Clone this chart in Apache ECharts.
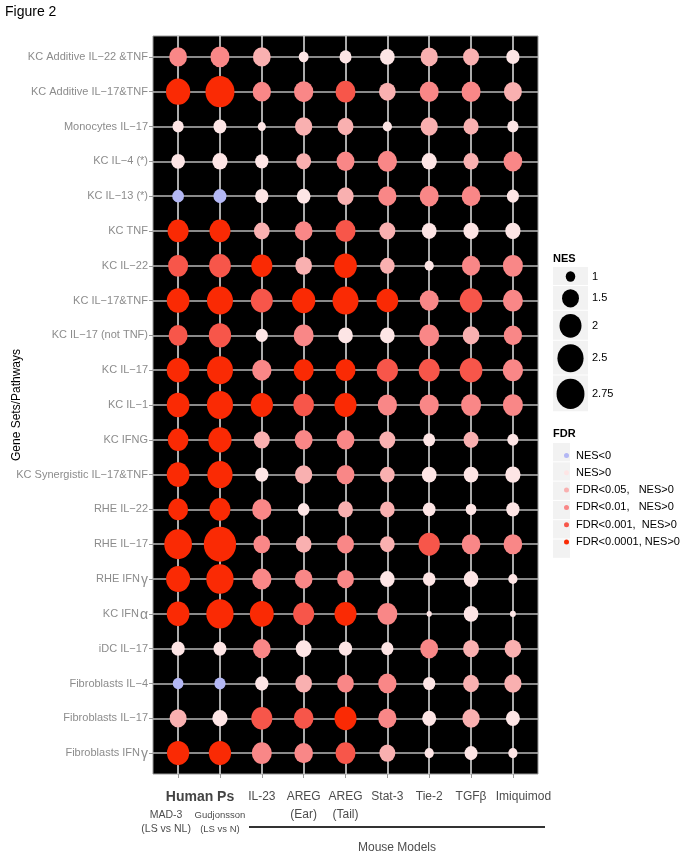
<!DOCTYPE html>
<html>
<head>
<meta charset="utf-8">
<title>Figure 2</title>
<script src="https://cdn.jsdelivr.net/npm/echarts@6/dist/echarts.min.js"></script>
<style>
  html, body { margin: 0; padding: 0; background: #fff; }
  #chart { width: 683px; height: 860px; }
</style>
</head>
<body>
<div id="chart"></div>
<script>
// gene sets / pathways, top to bottom
const geneSets = [
  'KC Additive IL−22 &TNF', 'KC Additive IL−17&TNF', 'Monocytes IL−17', 'KC IL−4 (*)',
  'KC IL−13 (*)', 'KC TNF', 'KC IL−22', 'KC IL−17&TNF', 'KC IL−17 (not TNF)', 'KC IL−17',
  'KC IL−1', 'KC IFNG', 'KC Synergistic IL−17&TNF', 'RHE IL−22', 'RHE IL−17', 'RHE IFNγ',
  'KC IFNα', 'iDC IL−17', 'Fibroblasts IL−4', 'Fibroblasts IL−17', 'Fibroblasts IFNγ'
];

// models (columns), first line / second line of the tick label
const modelTop = ['', '', 'IL-23', 'AREG', 'AREG', 'Stat-3', 'Tie-2', 'TGFβ', 'Imiquimod'];
const modelSub = ['MAD-3|(LS vs NL)', 'Gudjonsson|(LS vs N)', '', '(Ear)', '(Tail)', '', '', '', ''];

// NES, one row per gene set, one value per model
const nes = [
  [1.57, 1.69, 1.57, 1.02, 1.14, 1.32, 1.53, 1.42, 1.22],
  [2.27, 2.90, 1.62, 1.72, 1.79, 1.48, 1.69, 1.69, 1.59],
  [1.09, 1.20, 0.94, 1.53, 1.42, 0.99, 1.53, 1.36, 1.09],
  [1.25, 1.36, 1.22, 1.34, 1.59, 1.72, 1.36, 1.36, 1.66],
  [-1.12, -1.20, 1.22, 1.25, 1.45, 1.62, 1.69, 1.66, 1.14],
  [1.89, 1.89, 1.40, 1.57, 1.79, 1.42, 1.32, 1.36, 1.36],
  [1.79, 1.97, 1.89, 1.48, 2.08, 1.32, 0.99, 1.62, 1.79],
  [2.08, 2.49, 2.00, 2.15, 2.49, 1.97, 1.69, 2.08, 1.79],
  [1.69, 2.03, 1.15, 1.79, 1.32, 1.32, 1.79, 1.48, 1.62],
  [2.08, 2.49, 1.72, 1.79, 1.79, 1.92, 1.89, 2.08, 1.82],
  [2.08, 2.49, 2.03, 1.86, 2.00, 1.72, 1.72, 1.79, 1.79],
  [1.86, 2.15, 1.42, 1.59, 1.59, 1.42, 1.14, 1.34, 1.09],
  [2.08, 2.39, 1.22, 1.53, 1.59, 1.32, 1.32, 1.32, 1.36],
  [1.79, 1.89, 1.72, 1.12, 1.34, 1.32, 1.18, 1.06, 1.22],
  [2.72, 3.42, 1.48, 1.40, 1.50, 1.32, 1.92, 1.66, 1.66],
  [2.23, 2.66, 1.72, 1.57, 1.50, 1.32, 1.18, 1.32, 0.99],
  [2.08, 2.66, 2.23, 1.89, 2.00, 1.79, 0.84, 1.32, 0.86],
  [1.22, 1.20, 1.57, 1.40, 1.22, 1.15, 1.59, 1.42, 1.48],
  [-1.06, -1.09, 1.22, 1.48, 1.48, 1.62, 1.15, 1.42, 1.53],
  [1.50, 1.36, 1.89, 1.75, 2.00, 1.62, 1.27, 1.53, 1.27],
  [2.03, 2.03, 1.79, 1.66, 1.79, 1.42, 0.99, 1.20, 0.99]
];

// FDR class per cell: 0 NES<0, 1 NES>0, 2 <0.05, 3 <0.01, 4 <0.001, 5 <0.0001
const fdr = [
  [3, 3, 2, 1, 1, 1, 2, 2, 1],
  [5, 5, 3, 3, 4, 2, 3, 3, 2],
  [1, 1, 1, 2, 2, 1, 2, 2, 1],
  [1, 1, 1, 2, 3, 3, 1, 2, 3],
  [0, 0, 1, 1, 2, 3, 3, 3, 1],
  [5, 5, 2, 3, 4, 2, 1, 1, 1],
  [4, 4, 5, 2, 5, 2, 1, 3, 3],
  [5, 5, 4, 5, 5, 5, 3, 4, 3],
  [4, 4, 1, 3, 1, 1, 3, 2, 3],
  [5, 5, 3, 5, 5, 4, 4, 4, 3],
  [5, 5, 5, 4, 5, 3, 3, 3, 3],
  [5, 5, 2, 3, 3, 2, 1, 2, 1],
  [5, 5, 1, 2, 3, 2, 1, 1, 1],
  [5, 5, 3, 1, 2, 2, 1, 1, 1],
  [5, 5, 3, 2, 3, 2, 4, 3, 3],
  [5, 5, 3, 3, 3, 1, 1, 1, 1],
  [5, 5, 5, 4, 5, 3, 1, 1, 1],
  [1, 1, 3, 1, 1, 1, 3, 2, 2],
  [0, 0, 1, 2, 3, 3, 1, 2, 2],
  [2, 1, 4, 4, 5, 3, 1, 2, 1],
  [5, 5, 3, 3, 4, 2, 1, 1, 1]
];

const fdrClasses = ['NES<0', 'NES>0', 'FDR<0.05,   NES>0', 'FDR<0.01,   NES>0', 'FDR<0.001,  NES>0', 'FDR<0.0001, NES>0'];
const fdrColors = ['#b3b7f4', '#fde5e5', '#f9b0b0', '#f98787', '#f7564a', '#fa2a04'];
const nesBreaks = [1, 1.5, 2, 2.5, 2.75];

const FONT = '"Liberation Sans", Arial, Helvetica, sans-serif';
const ASPECT = 1.08; // the dots are a bit taller than wide in the figure

// diameter from |NES| (area-like scale)
function dotSize(v) {
  return 19.85 * Math.sqrt(Math.max(Math.abs(v) - 0.77, 0.02));
}

const chart = echarts.init(document.getElementById('chart'));

const seriesList = fdrClasses.map((name, k) => {
  const pts = [];
  nes.forEach((row, r) => {
    row.forEach((v, c) => {
      if (fdr[r][c] === k) pts.push([c + 1, r + 1, v]);
    });
  });
  return {
    name: name,
    type: 'scatter',
    data: pts,
    symbol: 'circle',
    symbolSize: val => {
      const d = dotSize(val[2]);
      return [d, d * ASPECT];
    },
    itemStyle: { color: fdrColors[k], opacity: 1 },
    emphasis: { disabled: true },
    z: 3
  };
});

// NES size key
const keyItems = [];
let keyY = 267;
nesBreaks.forEach(b => {
  const d = dotSize(b);
  const h = Math.max(19, d * 1.1 + 6);
  const cy = keyY + h / 2;
  keyItems.push(
    { type: 'rect', shape: { x: 553, y: keyY, width: 35, height: h - 1 }, style: { fill: '#f2f2f2' } },
    { type: 'circle', x: 570.5, y: cy, scaleY: ASPECT, shape: { cx: 0, cy: 0, r: d / 2 }, style: { fill: '#000' } },
    { type: 'text', x: 592, y: cy, style: { text: String(b), font: '11px ' + FONT, fill: '#000', textVerticalAlign: 'middle' } }
  );
  keyY += h;
});

// grey boxes behind the FDR legend icons
const fdrBoxes = fdrClasses.map((n, i) => ({
  type: 'rect', shape: { x: 553, y: 443 + i * 19.3, width: 17, height: 18.3 }, style: { fill: '#f2f2f2' }, z: -1
}));

const colTicks = modelTop.map((m, i) => i + 1);
const rowTicks = geneSets.map((g, i) => i + 1);

// x tick label text; odd and even columns go on two label axes so they never get culled
function colLabel(v) {
  const i = Math.round(v) - 1;
  if (i < 2) {
    const p = modelSub[i].split('|');
    const st = i === 0 ? 'm' : 'g';
    return '{sp| }\n{' + st + '|' + p[0] + '}\n{' + st + '|' + p[1] + '}';
  }
  // last label sits a little right of its tick in the figure
  const st = i === modelTop.length - 1 ? 'r' : 't';
  let s = '{' + st + '|' + modelTop[i] + '}';
  if (modelSub[i]) s += '\n{t|' + modelSub[i] + '}';
  return s;
}
const colRich = {
  t: { fontSize: 12, color: '#4d4d4d', lineHeight: 18, fontFamily: FONT },
  r: { fontSize: 12, color: '#4d4d4d', lineHeight: 18, fontFamily: FONT, padding: [0, 0, 0, 21] },
  sp: { fontSize: 12, lineHeight: 20 },
  m: { fontSize: 10.5, color: '#4d4d4d', lineHeight: 14, fontFamily: FONT, padding: [0, 24, 0, 0] },
  g: { fontSize: 9.5, color: '#4d4d4d', lineHeight: 14, fontFamily: FONT }
};
function labelAxis(values, withGrid) {
  return {
    type: 'value', min: 0.4, max: 9.6, position: 'bottom', offset: 0,
    axisLine: { show: false },
    axisTick: withGrid
      ? { show: true, length: 4, lineStyle: { color: '#9a9a9a' }, customValues: colTicks }
      : { show: false },
    splitLine: withGrid
      ? { show: true, lineStyle: { color: '#e6e6e6', width: 1.5 } }
      : { show: false },
    axisLabel: {
      customValues: values,
      showMinLabel: true,
      showMaxLabel: true,
      hideOverlap: false,
      margin: 14,
      verticalAlign: 'top',
      formatter: colLabel,
      rich: colRich
    }
  };
}

const option = {
  animation: false,
  textStyle: { fontFamily: FONT },
  grid: {
    left: 153, right: 145, top: 36, bottom: 86,
    show: true, backgroundColor: '#000', borderColor: '#9a9a9a', borderWidth: 1
  },
  xAxis: [
    labelAxis(colTicks.filter(v => v % 2 === 1), true),
    labelAxis(colTicks.filter(v => v % 2 === 0), false)
  ],
  yAxis: {
    type: 'value', min: 0.4, max: 21.6, inverse: true,
    axisLine: { show: false },
    axisTick: { show: true, length: 4, lineStyle: { color: '#9a9a9a' }, customValues: rowTicks },
    splitLine: { show: true, lineStyle: { color: '#b8b8b8', width: 1.5 } },
    axisLabel: {
      customValues: rowTicks,
      showMinLabel: true,
      showMaxLabel: true,
      hideOverlap: false,
      margin: 5,
      color: '#8c8c8c',
      fontSize: 11,
      formatter: v => {
        const name = geneSets[Math.round(v) - 1] || '';
        return name.replace(/([γα])/g, '{gr|$1}');
      },
      rich: {
        gr: { fontSize: 14, color: '#8c8c8c', padding: [3, 0, 0, 1], fontFamily: FONT }
      }
    }
  },
  legend: {
    orient: 'vertical',
    left: 559, top: 445,
    icon: 'circle',
    itemWidth: 5, itemHeight: 5,
    itemGap: 6.3,
    selectedMode: false,
    data: fdrClasses,
    textStyle: { fontSize: 11, color: '#000', fontFamily: FONT, padding: [0, 0, 0, 2] }
  },
  graphic: [
    { type: 'text', x: 5, y: 12, style: { text: 'Figure 2', font: '14px ' + FONT, fill: '#000', textVerticalAlign: 'middle' } },
    { type: 'text', x: 17, y: 405, rotation: Math.PI / 2,
      style: { text: 'Gene Sets/Pathways', font: '12px ' + FONT, fill: '#000', textAlign: 'center', textVerticalAlign: 'middle' } },
    { type: 'text', x: 200, y: 797, style: { text: 'Human Ps', font: 'bold 14px ' + FONT, fill: '#444', textAlign: 'center', textVerticalAlign: 'middle' } },
    { type: 'line', shape: { x1: 249, y1: 827, x2: 545, y2: 827 }, style: { stroke: '#333', lineWidth: 2 } },
    { type: 'text', x: 397, y: 848, style: { text: 'Mouse Models', font: '12px ' + FONT, fill: '#4d4d4d', textAlign: 'center', textVerticalAlign: 'middle' } },
    { type: 'text', x: 553, y: 259, style: { text: 'NES', font: 'bold 11px ' + FONT, fill: '#000', textVerticalAlign: 'middle' } },
    { type: 'text', x: 553, y: 434, style: { text: 'FDR', font: 'bold 11px ' + FONT, fill: '#000', textVerticalAlign: 'middle' } }
  ].concat(keyItems, fdrBoxes),
  series: seriesList
};

chart.setOption(option);
window.addEventListener('resize', () => chart.resize());
</script>
</body>
</html>
